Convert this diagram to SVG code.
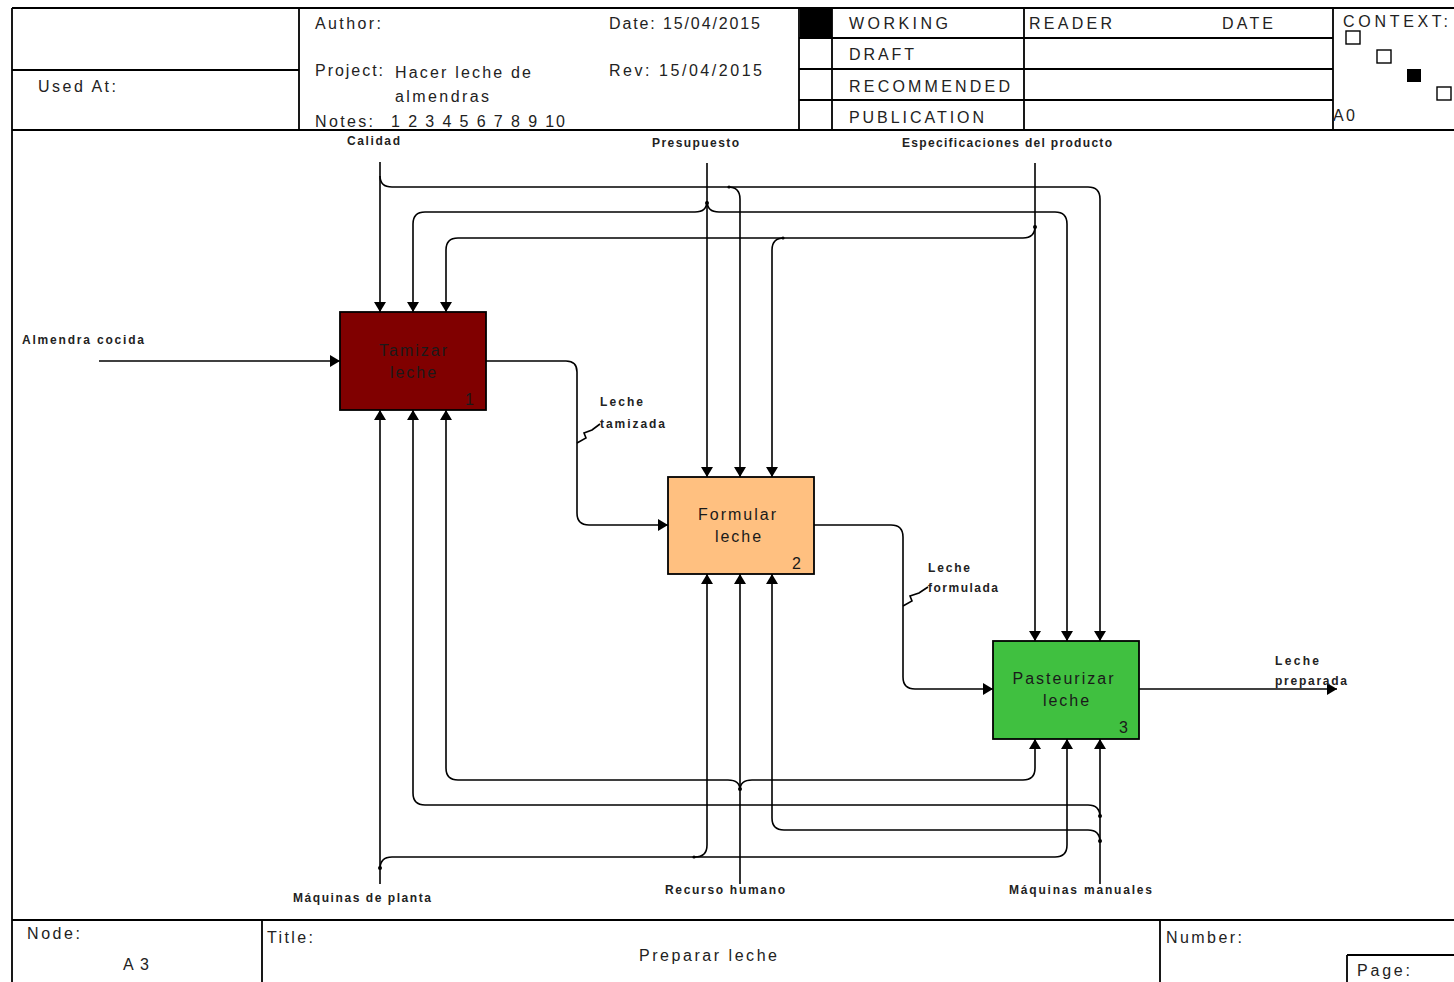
<svg xmlns="http://www.w3.org/2000/svg" width="1454" height="982" viewBox="0 0 1454 982">
<style>
.fr{stroke:#000;stroke-width:1.8;fill:none}
.hd{font-family:"Liberation Sans",Arial,sans-serif;font-size:16px;fill:#222}
.hu{font-family:"Liberation Sans",Arial,sans-serif;font-size:16px;fill:#222}
.lb{font-family:"Liberation Sans",Arial,sans-serif;font-size:12px;font-weight:bold;fill:#222}
.bx{stroke:#000;stroke-width:1.8}
.bt{font-family:"Liberation Sans",Arial,sans-serif;font-size:16px;fill:#1a1a1a;text-anchor:middle;letter-spacing:2px}
.num{font-family:"Liberation Sans",Arial,sans-serif;font-size:16px;fill:#1a1a1a}
.c{stroke:#000;stroke-width:1.6;fill:none}
.a{marker-end:url(#ah)}
</style>
<defs>
<marker id="ah" viewBox="0 0 10 12" refX="10" refY="6" markerWidth="10" markerHeight="12" markerUnits="userSpaceOnUse" orient="auto">
<path d="M0,0 L10,6 L0,12 z" fill="#000"/>
</marker>
</defs>
<rect width="1454" height="982" fill="#fff"/>
<g id="frame">
<path class="fr" d="M12,8 H1454 M12,8 V982 M12,130 H1454 M299,8 V130 M12,70 H299 M799,8 V130 M832,8 V130 M1024,8 V130 M1333,8 V130 M799,38 H1333 M799,69 H1333 M799,100 H1333 M12,920 H1454 M262,920 V982 M1160,920 V982 M1347,955 H1454 M1347,955 V982"/>
<rect x="800" y="9" width="32" height="29" fill="#000"/>
<rect x="1346" y="31" width="14" height="13" fill="#fff" stroke="#000" stroke-width="1.4"/>
<rect x="1377" y="50" width="14" height="13" fill="#fff" stroke="#000" stroke-width="1.4"/>
<rect x="1407" y="69" width="14" height="13" fill="#000"/>
<rect x="1437" y="87" width="14" height="13" fill="#fff" stroke="#000" stroke-width="1.4"/>
<text class="hd" x="38" y="92" textLength="78">Used At:</text>
<text class="hd" x="315" y="29" textLength="66">Author:</text>
<text class="hd" x="609" y="29" textLength="151">Date: 15/04/2015</text>
<text class="hd" x="315" y="76" textLength="68">Project:</text>
<text class="hd" x="395" y="78" textLength="136">Hacer leche de</text>
<text class="hd" x="395" y="102" textLength="94">almendras</text>
<text class="hd" x="609" y="76" textLength="153">Rev:  15/04/2015</text>
<text class="hd" x="315" y="127" textLength="58">Notes:</text>
<text class="hd" x="391" y="127" textLength="174">1 2 3 4 5 6 7 8 9 10</text>
<text class="hu" x="849" y="29" textLength="99">WORKING</text>
<text class="hu" x="1029" y="29" textLength="83">READER</text>
<text class="hu" x="1222" y="29" textLength="51">DATE</text>
<text class="hu" x="849" y="60" textLength="65">DRAFT</text>
<text class="hu" x="849" y="92" textLength="161">RECOMMENDED</text>
<text class="hu" x="849" y="123" textLength="135">PUBLICATION</text>
<text class="hu" x="1343" y="27" textLength="105">CONTEXT:</text>
<text class="hd" x="1333" y="121" font-size="13" textLength="22">A0</text>
<text class="hd" x="27" y="939" textLength="53">Node:</text>
<text class="hd" x="123" y="970" textLength="26">A3</text>
<text class="hd" x="267" y="943" textLength="46">Title:</text>
<text class="hd" x="639" y="961" textLength="138">Preparar  leche</text>
<text class="hd" x="1166" y="943" textLength="76">Number:</text>
<text class="hd" x="1357" y="976" textLength="53">Page:</text>
</g>
<g id="connectors">
<path class="c a" d="M380,162 V312"/>
<path class="c a" d="M380,176 Q380,187 392,187 H1088 Q1100,187 1100,199 V641"/>
<path class="c a" d="M728,187 Q740,187 740,199 V477"/>
<path class="c a" d="M707,163 V477"/>
<path class="c a" d="M707,201 Q707,212 695,212 H425 Q413,212 413,224 V312"/>
<path class="c a" d="M707,201 Q707,212 719,212 H1055 Q1067,212 1067,224 V641"/>
<path class="c a" d="M1035,163 V641"/>
<path class="c a" d="M1035,226 Q1035,238 1023,238 H458 Q446,238 446,250 V312"/>
<path class="c a" d="M784,238 Q772,238 772,250 V477"/>
<path class="c a" d="M380,884 V410"/>
<path class="c a" d="M380,869 Q380,857 392,857 H695 Q707,857 707,845 V574"/>
<path class="c a" d="M695,857 H1055 Q1067,857 1067,845 V739"/>
<path class="c a" d="M740,884 V574"/>
<path class="c a" d="M740,790 Q740,780 728,780 H458 Q446,780 446,768 V410"/>
<path class="c a" d="M740,790 Q740,780 752,780 H1023 Q1035,780 1035,768 V739"/>
<path class="c a" d="M1100,884 V739"/>
<path class="c a" d="M1100,817 Q1100,805 1088,805 H425 Q413,805 413,793 V410"/>
<path class="c a" d="M1100,842 Q1100,830 1088,830 H784 Q772,830 772,818 V574"/>
<path class="c a" d="M99,361 H340"/>
<path class="c a" d="M486,361 H566 Q577,361 577,372 V513 Q577,525 589,525 H668"/>
<path class="c a" d="M814,525 H891 Q903,525 903,537 V677 Q903,689 915,689 H993"/>
<path class="c a" d="M1139,689 H1337"/>
<path class="c" stroke-width="1.3" d="M577,443 L586,438 L584,433 L592,430 L600,424"/>
<path class="c" stroke-width="1.3" d="M903,606 L912,601 L910,596 L919,593 L928,587"/>
<g fill="#000">
<circle cx="707" cy="203" r="2"/>
<circle cx="1035" cy="227" r="2"/>
<circle cx="740" cy="789" r="2"/>
<circle cx="380" cy="868" r="2"/>
<circle cx="1100" cy="816" r="2"/>
<circle cx="1100" cy="841" r="2"/>
<circle cx="729" cy="187" r="1.6"/>
<circle cx="783" cy="238" r="1.6"/>
<circle cx="694" cy="857" r="1.6"/>
</g>
<text class="lb" x="347" y="145" textLength="53">Calidad</text>
<text class="lb" x="652" y="147" textLength="87">Presupuesto</text>
<text class="lb" x="902" y="147" textLength="210">Especificaciones del producto</text>
<text class="lb" x="22" y="344" textLength="122">Almendra  cocida</text>
<text class="lb" x="600" y="406" textLength="43">Leche</text>
<text class="lb" x="600" y="428" textLength="65">tamizada</text>
<text class="lb" x="928" y="572" textLength="42">Leche</text>
<text class="lb" x="928" y="592" textLength="70">formulada</text>
<text class="lb" x="1275" y="665" textLength="44">Leche</text>
<text class="lb" x="1275" y="685" textLength="72">preparada</text>
<text class="lb" x="293" y="902" textLength="138">Máquinas de planta</text>
<text class="lb" x="665" y="894" textLength="120">Recurso humano</text>
<text class="lb" x="1009" y="894" textLength="143">Máquinas manuales</text>
</g>
<g id="node1">
<rect class="bx" x="340" y="312" width="146" height="98" fill="#800000"/>
<text class="bt" x="414" y="356">Tamizar</text>
<text class="bt" x="414" y="378">leche</text>
<text class="num" x="465" y="405">1</text>
</g>
<g id="node2">
<rect class="bx" x="668" y="477" width="146" height="97" fill="#FFC080"/>
<text class="bt" x="738" y="520">Formular</text>
<text class="bt" x="739" y="542">leche</text>
<text class="num" x="792" y="569">2</text>
</g>
<g id="node3">
<rect class="bx" x="993" y="641" width="146" height="98" fill="#40C040"/>
<text class="bt" x="1064" y="684">Pasteurizar</text>
<text class="bt" x="1067" y="706">leche</text>
<text class="num" x="1119" y="733">3</text>
</g>
</svg>
